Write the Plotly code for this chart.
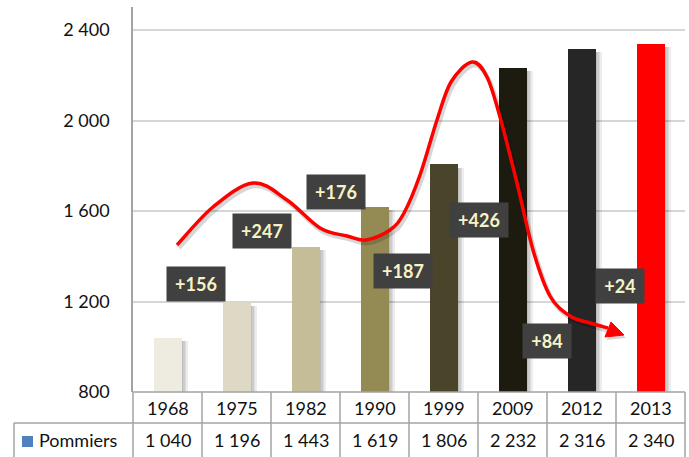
import plotly.graph_objects as go

# ---- data -------------------------------------------------------------
years = ["1968", "1975", "1982", "1990", "1999", "2009", "2012", "2013"]
pommiers = [1040, 1196, 1443, 1619, 1806, 2232, 2316, 2340]
series_name = "Pommiers"
y_ticks = [800, 1200, 1600, 2000, 2400]

# ---- styling ------------------------------------------------------------
bar_colors = ["#EEECE1", "#DDD9C4", "#C4BD97", "#948A54",
              "#4A452A", "#1D1B10", "#262626", "#FF0000"]
FONT = "Lato"
GRID = "#D6D6D6"
BORDER = "#A3A3A3"

# growth-label centres: (category position, value-axis position)
label_pos = [(0.41, 1277), (1.37, 1512), (2.44, 1684), (3.41, 1335),
             (4.51, 1560), (5.50, 1025), (6.56, 1268)]

# figure geometry (pixels)
W, H = 689, 457
L, R, T, B = 133, 685, 7, 392
col_w = (R - L) / len(years)


def fmt(v):
    return f"{v:,}".replace(",", " ")


def pp(px, py):
    """pixel -> paper coordinates"""
    return (px - L) / (R - L), (B - py) / (B - T)


fig = go.Figure()

# soft drop shadows behind the bars
for k in range(1, 5):
    fig.add_trace(go.Bar(
        x=[i + (1.5 * k) / col_w for i in range(len(years))],
        y=[v - 14 for v in pommiers],
        width=28 / col_w,
        marker=dict(color="rgba(0,0,0,0.07)", line=dict(width=0)),
        hoverinfo="skip", showlegend=False,
    ))

# main bars
fig.add_trace(go.Bar(
    x=list(range(len(years))),
    y=pommiers,
    width=28 / col_w,
    marker=dict(color=bar_colors, line=dict(width=0)),
    name=series_name,
    hovertext=[f"{y}: {fmt(v)}" for y, v in zip(years, pommiers)],
    hoverinfo="text",
    showlegend=False,
))

shapes = []
annotations = []

# ---- growth labels (difference to the previous census) -----------------
for i, (xp, yp) in enumerate(label_pos):
    diff = pommiers[i + 1] - pommiers[i]
    txt = f"+{diff}"
    annotations.append(dict(
        x=xp, y=yp, xref="x", yref="y", text=f"<b>{txt}</b>",
        showarrow=False, bgcolor="#404040",
        font=dict(family=FONT, size=18, color="#F8F3C6"),
        width=46 if len(txt) > 3 else 36, height=22, borderpad=6,
        align="center", xanchor="center", yanchor="middle",
    ))

# ---- red trend arrow ----------------------------------------------------
curve_px = [(177, 245), (213, 207), (253, 183), (287, 200), (320, 228),
            (347, 236), (366, 240), (390, 230), (404, 213), (420, 175),
            (437, 120), (451, 82), (472, 62), (487, 77), (500, 117),
            (517, 183), (533, 250), (550, 296), (570, 316), (590, 323),
            (608, 328)]


def catmull_path(points, dx=0.0, dy=0.0):
    pts = [pp(x + dx, y + dy) for x, y in points]
    d = f"M {pts[0][0]:.5f},{pts[0][1]:.5f}"
    for i in range(len(pts) - 1):
        p0 = pts[i - 1] if i > 0 else pts[i]
        p1, p2 = pts[i], pts[i + 1]
        p3 = pts[i + 2] if i + 2 < len(pts) else pts[i + 1]
        c1 = (p1[0] + (p2[0] - p0[0]) / 6, p1[1] + (p2[1] - p0[1]) / 6)
        c2 = (p2[0] - (p3[0] - p1[0]) / 6, p2[1] - (p3[1] - p1[1]) / 6)
        d += (f" C {c1[0]:.5f},{c1[1]:.5f} {c2[0]:.5f},{c2[1]:.5f}"
              f" {p2[0]:.5f},{p2[1]:.5f}")
    return d


def tri_path(dx=0.0, dy=0.0):
    tip, b1, b2 = (624, 335), (611, 322), (605, 337)
    a, b, c = (pp(x + dx, y + dy) for x, y in (tip, b1, b2))
    return (f"M {a[0]:.5f},{a[1]:.5f} L {b[0]:.5f},{b[1]:.5f} "
            f"L {c[0]:.5f},{c[1]:.5f} Z")


# shadow of the arrow
shapes.append(dict(type="path", xref="paper", yref="paper",
                   path=catmull_path(curve_px, 2, 3),
                   line=dict(color="rgba(0,0,0,0.16)", width=4.5)))
shapes.append(dict(type="path", xref="paper", yref="paper",
                   path=tri_path(2, 3), fillcolor="rgba(0,0,0,0.16)",
                   line=dict(width=0)))
# the arrow itself
shapes.append(dict(type="path", xref="paper", yref="paper",
                   path=catmull_path(curve_px),
                   line=dict(color="#FF0000", width=3.5)))
shapes.append(dict(type="path", xref="paper", yref="paper",
                   path=tri_path(), fillcolor="#FF0000",
                   line=dict(color="#FF0000", width=1)))

# ---- data table under the axis -----------------------------------------
row_mid = 423
bottom = 457
line = dict(color=BORDER, width=1.5)
# horizontal rules
x0, _ = pp(L, 0)
x1, _ = pp(R, 0)
xl, _ = pp(14, 0)
_, y_top = pp(0, B)
_, y_mid = pp(0, row_mid)
_, y_bot = pp(0, bottom)
shapes.append(dict(type="line", xref="paper", yref="paper",
                   x0=x0, x1=x1, y0=y_top, y1=y_top, line=line))
shapes.append(dict(type="line", xref="paper", yref="paper",
                   x0=xl, x1=x1, y0=y_mid, y1=y_mid, line=line))
# vertical rules
for i in range(len(years) + 1):
    xv, _ = pp(L + i * col_w, 0)
    shapes.append(dict(type="line", xref="paper", yref="paper",
                       x0=xv, x1=xv, y0=y_top, y1=y_bot, line=line))
shapes.append(dict(type="line", xref="paper", yref="paper",
                   x0=xl, x1=xl, y0=y_mid, y1=y_bot, line=line))

_, y_year = pp(0, 408)
_, y_val = pp(0, 440)
cell_font = dict(family=FONT, size=18, color="#111111")
for i, (yr, v) in enumerate(zip(years, pommiers)):
    annotations.append(dict(x=i, y=y_year, xref="x", yref="paper",
                            text=yr, showarrow=False, font=cell_font,
                            xanchor="center", yanchor="middle"))
    annotations.append(dict(x=i, y=y_val, xref="x", yref="paper",
                            text=fmt(v), showarrow=False, font=cell_font,
                            xanchor="center", yanchor="middle"))

# series key in the table
kx0, ky0 = pp(22, 447)
kx1, ky1 = pp(33, 436)
shapes.append(dict(type="rect", xref="paper", yref="paper",
                   x0=kx0, x1=kx1, y0=ky0, y1=ky1,
                   fillcolor="#4F81BD", line=dict(width=0)))
nx, _ = pp(37, 0)
annotations.append(dict(x=nx, y=y_val, xref="paper", yref="paper",
                        text=series_name, showarrow=False, font=cell_font,
                        xanchor="left", yanchor="middle"))

fig.update_layout(
    width=W, height=H, autosize=False,
    margin=dict(l=L, r=W - R, t=T, b=H - B, pad=0),
    paper_bgcolor="white", plot_bgcolor="white",
    barmode="overlay", bargap=0,
    showlegend=False,
    shapes=shapes, annotations=annotations,
    xaxis=dict(range=[-0.5, len(years) - 0.5], showticklabels=False,
               showgrid=False, zeroline=False, showline=False,
               fixedrange=True),
    yaxis=dict(range=[800, 2502], tickvals=y_ticks,
               ticktext=[fmt(v) for v in y_ticks],
               tickfont=dict(family=FONT, size=18, color="#111111"),
               showgrid=True, gridcolor=GRID, gridwidth=2,
               zeroline=False, showline=True, linecolor=BORDER,
               linewidth=1.5, ticks="", ticklabelstandoff=18,
               fixedrange=True),
)

fig.write_html("out.html")
